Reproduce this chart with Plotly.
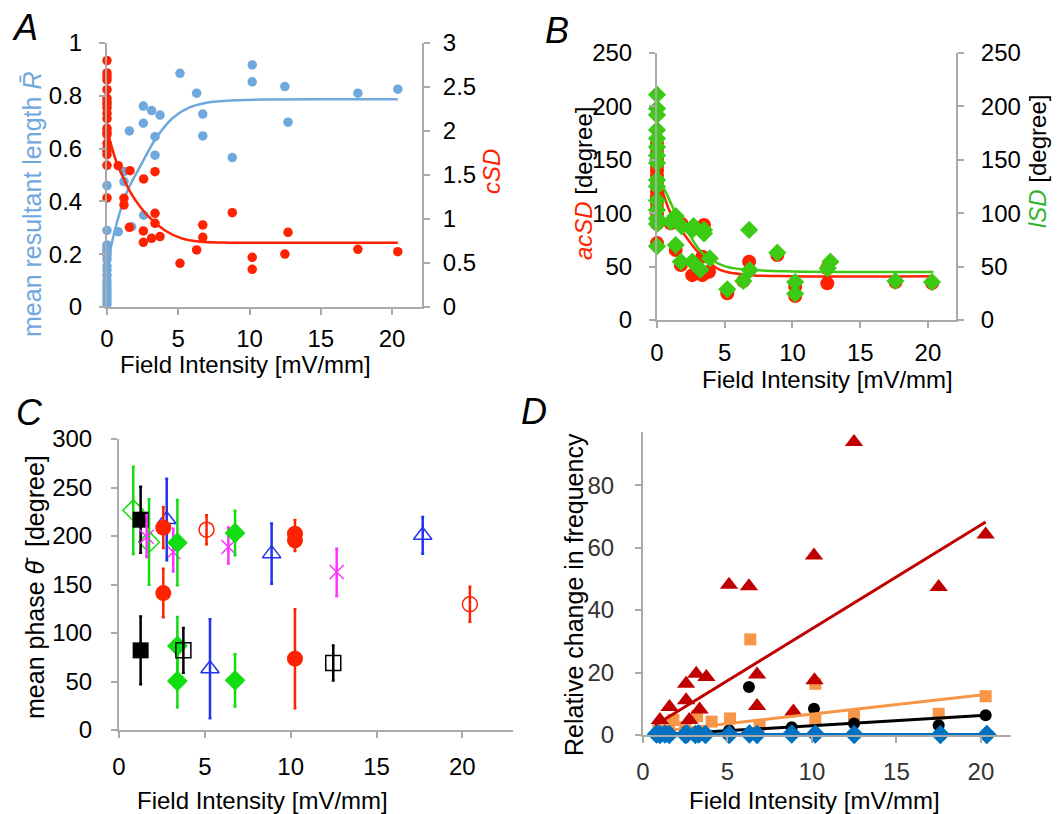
import plotly.graph_objects as go

# ---------------- Panel A data ----------------
A_R_x = [0, 0, 0, 0, 0, 0, 0, 0, 0, 0, 0, 0, 0, 0, 0, 0, 0, 0,
         0.79, 1.19, 1.19, 1.57, 1.73, 2.55, 2.55, 2.57, 3.13, 3.37, 3.37, 3.72,
         5.12, 6.29, 6.72, 6.72, 8.79, 10.19, 10.19, 12.48, 12.7, 17.6, 20.4]
A_R_y = [0.46, 0.29, 0.235, 0.225, 0.215, 0.205, 0.195, 0.18, 0.155, 0.14, 0.12, 0.10,
         0.085, 0.07, 0.055, 0.04, 0.025, 0.01,
         0.285, 0.513, 0.475, 0.667, 0.304, 0.761, 0.696, 0.348, 0.744, 0.645, 0.575, 0.727,
         0.885, 0.81, 0.731, 0.648, 0.566, 0.917, 0.853, 0.835, 0.70, 0.81, 0.825]
A_cSD_x = [0, 0, 0, 0, 0, 0, 0, 0, 0, 0, 0, 0, 0, 0, 0, 0, 0, 0, 0, 0,
           0.79, 1.19, 1.19, 1.57, 1.61, 2.55, 2.55, 2.57, 3.13, 3.37, 3.37, 3.37,
           3.72, 5.12, 6.29, 6.72, 6.72, 8.79, 10.19, 10.19, 12.48, 12.7, 17.6, 20.4]
A_cSD_y = [2.80, 2.66, 2.62, 2.58, 2.47, 2.37, 2.33, 2.30, 2.26, 2.20, 2.14, 2.03, 1.99,
           1.96, 1.86, 1.80, 1.77, 1.73, 1.61, 1.24,
           1.606, 1.235, 1.16, 0.905, 1.549, 0.864, 0.735, 1.455, 0.78, 1.538, 1.064, 0.951,
           0.80, 0.496, 0.648, 0.932, 0.792, 1.072, 0.564, 0.428, 0.602, 0.849, 0.655, 0.629]
A_Rfit_x = [0, 0.2, 0.55, 0.8, 1.15, 1.6, 2.3, 3.0, 3.5, 4.65, 5.8, 7.0, 9.0, 11.4, 15.0, 20.4]
A_Rfit_y = [0.16, 0.21, 0.29, 0.34, 0.40, 0.46, 0.53, 0.60, 0.645, 0.718, 0.756, 0.774, 0.783, 0.786, 0.787, 0.787]
A_cfit_x = [0, 0.33, 0.68, 1.03, 1.73, 2.9, 4.07, 5.24, 6.4, 8.0, 12.0, 20.4]
A_cfit_y = [2.02, 1.82, 1.64, 1.51, 1.28, 1.03, 0.87, 0.78, 0.745, 0.732, 0.73, 0.73]

# ---------------- Panel B data ----------------
B_ac_x = [0, 0, 0, 0, 0, 0, 0, 0, 0, 0, 0, 0, 0, 0, 0, 0, 0,
          1.0, 1.38, 1.82, 1.76, 2.6, 3.35, 3.47, 3.35, 3.84, 5.19, 6.37, 6.8, 8.88,
          10.2, 10.2, 12.57, 12.57, 17.6, 20.3]
B_ac_y = [72, 90, 95, 100, 105, 110, 115, 120, 125, 130, 135, 140, 145, 150, 155, 160, 165,
          90.5, 65.5, 90, 51.5, 42, 42, 89, 59.3, 45.2, 25, 36.5, 54.6, 60.9,
          31.2, 22.5, 48.4, 34.3, 35.5, 34.5]
B_l_x = [0, 0, 0, 0, 0, 0, 0, 0, 0, 0, 0, 0, 0, 0, 0,
         1.0, 1.38, 1.38, 1.82, 1.76, 2.6, 2.7, 2.6, 3.47, 3.47, 3.2, 3.9, 5.19, 6.8,
         6.85, 6.37, 8.88, 10.2, 10.2, 12.8, 12.6, 17.6, 20.3]
B_l_y = [211, 198, 192, 178, 170, 162, 154, 147, 131, 125, 112, 103, 95, 90, 69,
         92, 97.4, 70.2, 87.7, 54.6, 84.3, 88, 54.6, 84.3, 81, 47.1, 57.7, 28.7, 84.3,
         46.8, 36.5, 63, 35.5, 24.6, 54.6, 48.4, 36.5, 35.5]
B_acfit_x = [0.05, 0.2, 0.47, 1.0, 1.8, 3.15, 4.65, 7.0, 10.0, 20.4]
B_acfit_y = [140, 128, 118, 100, 84, 62, 47, 42, 41, 41]
B_lfit_x = [0.05, 0.3, 0.72, 1.3, 2.2, 3.4, 5.1, 7.6, 10.0, 20.4]
B_lfit_y = [145, 128, 118, 102, 84, 62, 50, 46.5, 45.5, 45]

# ---------------- Panel C data (mean phase +/- error) ----------------
C_gopen_x = [0.83, 1.75]
C_gopen_y = [226.5, 193.8]
C_gopen_e = [45, 44]
C_bksq_x = [1.26, 1.26]
C_bksq_y = [216.8, 82.1]
C_bksq_e = [34, 35]
C_mag_x = [1.61, 3.16, 6.37, 12.68]
C_mag_y = [199.3, 183.5, 188.7, 162.9]
C_mag_ep = [22, 24, 20, 24]
C_mag_em = [21, 20, 17, 25]
C_btri_x = [2.78, 5.3, 8.89, 17.69]
C_btri_y = [217, 63.2, 181.8, 200.7]
C_btri_e = [42, 51, 31, 19]
C_rdot_x = [2.58, 2.58, 10.25, 10.25, 10.25]
C_rdot_y = [208.6, 141.2, 202.4, 195.6, 73.5]
C_rdot_e = [21, 25, 14, 11, 51]
C_gdia_x = [3.4, 3.4, 3.4, 6.76, 6.76]
C_gdia_y = [193.1, 86.6, 50.5, 203.1, 51.2]
C_gdia_e = [44, 30, 27, 23, 27]
C_bkopen_x = [3.75, 12.48]
C_bkopen_y = [82.1, 69.1]
C_bkopen_e = [23, 18]
C_ropen_x = [5.1, 20.44]
C_ropen_y = [206.5, 129.6]
C_ropen_e = [15, 18]

# ---------------- Panel D data ----------------
D_tri_x = [12.49, 20.28, 17.5, 10.12, 5.09, 6.27, 6.75, 6.75, 10.15, 3.15, 3.75, 2.55, 2.55,
           1.57, 3.35, 1.0, 2.74, 8.9]
D_tri_y = [93.8, 64.2, 47.4, 57.5, 48.1, 47.6, 19.4, 9.3, 17.5, 19.6, 18.6, 16.4, 11.1,
           9.0, 8.2, 4.8, 4.8, 7.5]
D_sq_x = [6.35, 10.2, 20.28, 17.5, 5.15, 3.2, 12.49, 1.8, 4.06, 1.54, 6.9, 10.2, 0.9, 2.5]
D_sq_y = [30.6, 16.4, 12.4, 6.8, 5.3, 6.0, 6.2, 4.8, 4.3, 3.0, 3.2, 5.2, 1.5, 2.5]
D_dot_x = [6.27, 10.12, 20.28, 17.5, 12.49, 0.8, 1.5, 2.5, 3.3, 5.1, 8.8]
D_dot_y = [15.4, 8.4, 6.3, 3.1, 3.7, 0.5, 0.8, 1.0, 1.2, 1.5, 2.5]
D_dia_x = [0.8, 1.0, 1.3, 1.55, 2.5, 2.6, 3.1, 3.3, 3.7, 5.1, 6.3, 6.75, 8.8, 10.2, 12.5, 17.6, 20.35]
D_dia_y = [0.3, 0.2, 0.3, 0.2, 0.2, 0.3, 0.2, 0.3, 0.2, 0.2, 0.3, 0.2, 0.3, 0.3, 0.2, 0.2, 0.2]
D_fit_x = [0.71, 20.28]
D_fit_red_y = [3.1, 68.2]
D_fit_orange_y = [1.0, 13.0]
D_fit_black_y = [0.0, 6.3]
D_fit_blue_y = [0.1, 0.2]

# ---------------- styling ----------------
FONT = "Liberation Sans, Arial, Helvetica, sans-serif"
GRAY = "#AAAAAA"
BLUE_A = "#6FA8DC"
RED = "#FF2200"
GREEN_B = "#3CCB14"
GREEN_T = "#2DB52D"
GREEN_C = "#11DD11"
BLUE_C = "#2233EE"
MAG = "#FF33FF"
DRED = "#C00000"
ORANGE = "#F79646"
BLUE_D = "#0070C0"
TS = 24  # tick font size

fig = go.Figure()


def sc(x, y, xa, ya, **kw):
    fig.add_trace(go.Scatter(x=x, y=y, xaxis=xa, yaxis=ya, cliponaxis=False,
                             showlegend=False, hoverinfo="skip", **kw))


# Panel A
sc(A_R_x, A_R_y, "x", "y", mode="markers", marker=dict(size=9.5, color=BLUE_A))
sc(A_cSD_x, A_cSD_y, "x", "y2", mode="markers", marker=dict(size=9.5, color=RED))
sc(A_Rfit_x, A_Rfit_y, "x", "y", mode="lines", line=dict(color=BLUE_A, width=2.5, shape="spline"))
sc(A_cfit_x, A_cfit_y, "x", "y2", mode="lines", line=dict(color=RED, width=2.5, shape="spline"))

# Panel B
sc(B_ac_x, B_ac_y, "x2", "y3", mode="markers", marker=dict(size=14, color=RED))
sc(B_acfit_x, B_acfit_y, "x2", "y3", mode="lines", line=dict(color=RED, width=2.5, shape="spline"))
sc(B_l_x, B_l_y, "x2", "y4", mode="markers", marker=dict(size=14, color=GREEN_B, symbol="diamond"))
sc(B_lfit_x, B_lfit_y, "x2", "y4", mode="lines", line=dict(color=GREEN_B, width=2.5, shape="spline"))


# Panel C
def ce(x, y, ep, em, color, symbol, size, filled=True):
    if filled:
        marker = dict(size=size, symbol=symbol, color=color, line=dict(width=0))
    else:
        marker = dict(size=size, symbol=symbol, color=color, line=dict(color=color, width=1.5))
    sc(x, y, "x3", "y5", mode="markers", marker=marker,
       error_y=dict(type="data", array=ep, arrayminus=em, color=color, thickness=2.5, width=1.5))


ce(C_gopen_x, C_gopen_y, C_gopen_e, C_gopen_e, GREEN_C, "diamond-open", 16, False)
ce(C_bksq_x, C_bksq_y, C_bksq_e, C_bksq_e, "black", "square", 16)
ce(C_mag_x, C_mag_y, C_mag_ep, C_mag_em, MAG, "x-thin-open", 14, False)
ce(C_btri_x, C_btri_y, C_btri_e, C_btri_e, BLUE_C, "triangle-up-open", 16, False)
ce(C_rdot_x, C_rdot_y, C_rdot_e, C_rdot_e, RED, "circle", 16)
ce(C_gdia_x, C_gdia_y, C_gdia_e, C_gdia_e, GREEN_C, "diamond", 16)
ce(C_bkopen_x, C_bkopen_y, C_bkopen_e, C_bkopen_e, "black", "square-open", 15, False)
ce(C_ropen_x, C_ropen_y, C_ropen_e, C_ropen_e, RED, "circle-open", 15, False)

# Panel D
sc(D_sq_x, D_sq_y, "x4", "y6", mode="markers", marker=dict(size=12, color=ORANGE, symbol="square"))
sc(D_dot_x, D_dot_y, "x4", "y6", mode="markers", marker=dict(size=12, color="black"))
sc(D_tri_x, D_tri_y, "x4", "y6", mode="markers", marker=dict(size=16, color=DRED, symbol="triangle-up"))
sc(D_fit_x, D_fit_orange_y, "x4", "y6", mode="lines", line=dict(color=ORANGE, width=3))
sc(D_fit_x, D_fit_black_y, "x4", "y6", mode="lines", line=dict(color="black", width=3))
sc(D_fit_x, D_fit_red_y, "x4", "y6", mode="lines", line=dict(color=DRED, width=3))
sc(D_fit_x, D_fit_blue_y, "x4", "y6", mode="lines", line=dict(color=BLUE_D, width=3))
sc(D_dia_x, D_dia_y, "x4", "y6", mode="markers", marker=dict(size=15, color=BLUE_D, symbol="diamond"))

W, H = 1058, 814


def ax(**kw):
    d = dict(showline=True, linecolor=GRAY, linewidth=2, ticks="outside", ticklen=6,
             tickwidth=2, tickcolor=GRAY, showgrid=False, zeroline=False, automargin=False,
             tickfont=dict(size=TS, color="black", family=FONT), ticklabelstandoff=4)
    d.update(kw)
    return d


def px(xl, xr):
    return [xl / W, xr / W]


def py(yt, yb):
    return [1 - yb / H, 1 - yt / H]


xt = [0, 5, 10, 15, 20]
fig.update_layout(
    width=W, height=H, margin=dict(l=0, r=0, t=0, b=0, autoexpand=False),
    paper_bgcolor="white", plot_bgcolor="white",
    font=dict(family=FONT, size=24, color="black"),
    xaxis=ax(domain=px(107, 422), range=[0, 22.1], anchor="y", tickvals=xt, ticklabelstandoff=3),
    yaxis=ax(domain=py(43, 307), range=[0, 1], anchor="x",
             tickvals=[0, 0.2, 0.4, 0.6, 0.8, 1], ticktext=["0", "0.2", "0.4", "0.6", "0.8", "1"],
             ticklabelstandoff=12),
    yaxis2=ax(overlaying="y", side="right", anchor="x", range=[0, 3],
              tickvals=[0, 0.5, 1, 1.5, 2, 2.5, 3], ticktext=["0", "0.5", "1", "1.5", "2", "2.5", "3"],
              ticklabelstandoff=8),
    xaxis2=ax(domain=px(657, 956), range=[0, 22.07], anchor="y3", tickvals=xt, ticklabelstandoff=4),
    yaxis3=ax(domain=py(53, 320), range=[0, 250], anchor="x2",
              tickvals=[0, 50, 100, 150, 200, 250], ticklabelstandoff=12),
    yaxis4=ax(overlaying="y3", side="right", anchor="x2", range=[0, 250],
              tickvals=[0, 50, 100, 150, 200, 250], ticklabelstandoff=12),
    xaxis3=ax(domain=px(119, 513), range=[0, 22.95], anchor="y5", tickvals=xt, ticklabelstandoff=8),
    yaxis5=ax(domain=py(439, 730), range=[0, 300], anchor="x3",
              tickvals=[0, 50, 100, 150, 200, 250, 300], ticklabelstandoff=14),
    xaxis4=ax(domain=px(643, 1011), range=[0, 21.78], anchor="y6", tickvals=xt, ticklabelstandoff=8,
              tickfont=dict(size=TS, color="#333333", family=FONT)),
    yaxis6=ax(domain=py(432, 735), range=[0, 97], anchor="x4",
              tickvals=[0, 20, 40, 60, 80], ticklabelstandoff=16,
              tickfont=dict(size=TS, color="#333333", family=FONT)),
)


def ann(text, x, y, size=24, angle=0, color="black"):
    fig.add_annotation(text=text, x=x / W, y=1 - y / H, xref="paper", yref="paper",
                       showarrow=False, textangle=angle, xanchor="center", yanchor="middle",
                       font=dict(size=size, color=color, family=FONT))


XT = "Field Intensity [mV/mm]"
# panel labels
ann("<i>A</i>", 25, 27, size=36)
ann("<i>B</i>", 557, 30, size=36)
ann("<i>C</i>", 29, 412, size=36)
ann("<i>D</i>", 534, 411, size=36)
# Panel A titles
ann(XT, 245, 365)
ann("mean resultant length <i>R\u0304</i>", 32, 205, angle=-90, color=BLUE_A, size=25)
ann("<i>cSD</i>", 492, 172, angle=-90, color=RED)
# Panel B titles
ann(XT, 827, 379)
ann(f"<i><span style='color:{RED}'>acSD</span></i> [degree]", 584, 184, angle=-90)
ann(f"<i><span style='color:{GREEN_T}'>lSD</span></i> [degree]", 1037, 162, angle=-90)
# Panel C titles
ann(XT, 262, 800)
ann("mean phase <i>\u03b8\u0304</i>  [degree]", 35, 587, angle=-90, size=25)
# Panel D titles
ann(XT, 814, 800)
ann("Relative change in frequency", 574, 595, angle=-90, size=25)

fig.write_html("out.html", config={"displayModeBar": False},
               post_script="document.body.style.margin='0';document.body.style.overflow='hidden';")
